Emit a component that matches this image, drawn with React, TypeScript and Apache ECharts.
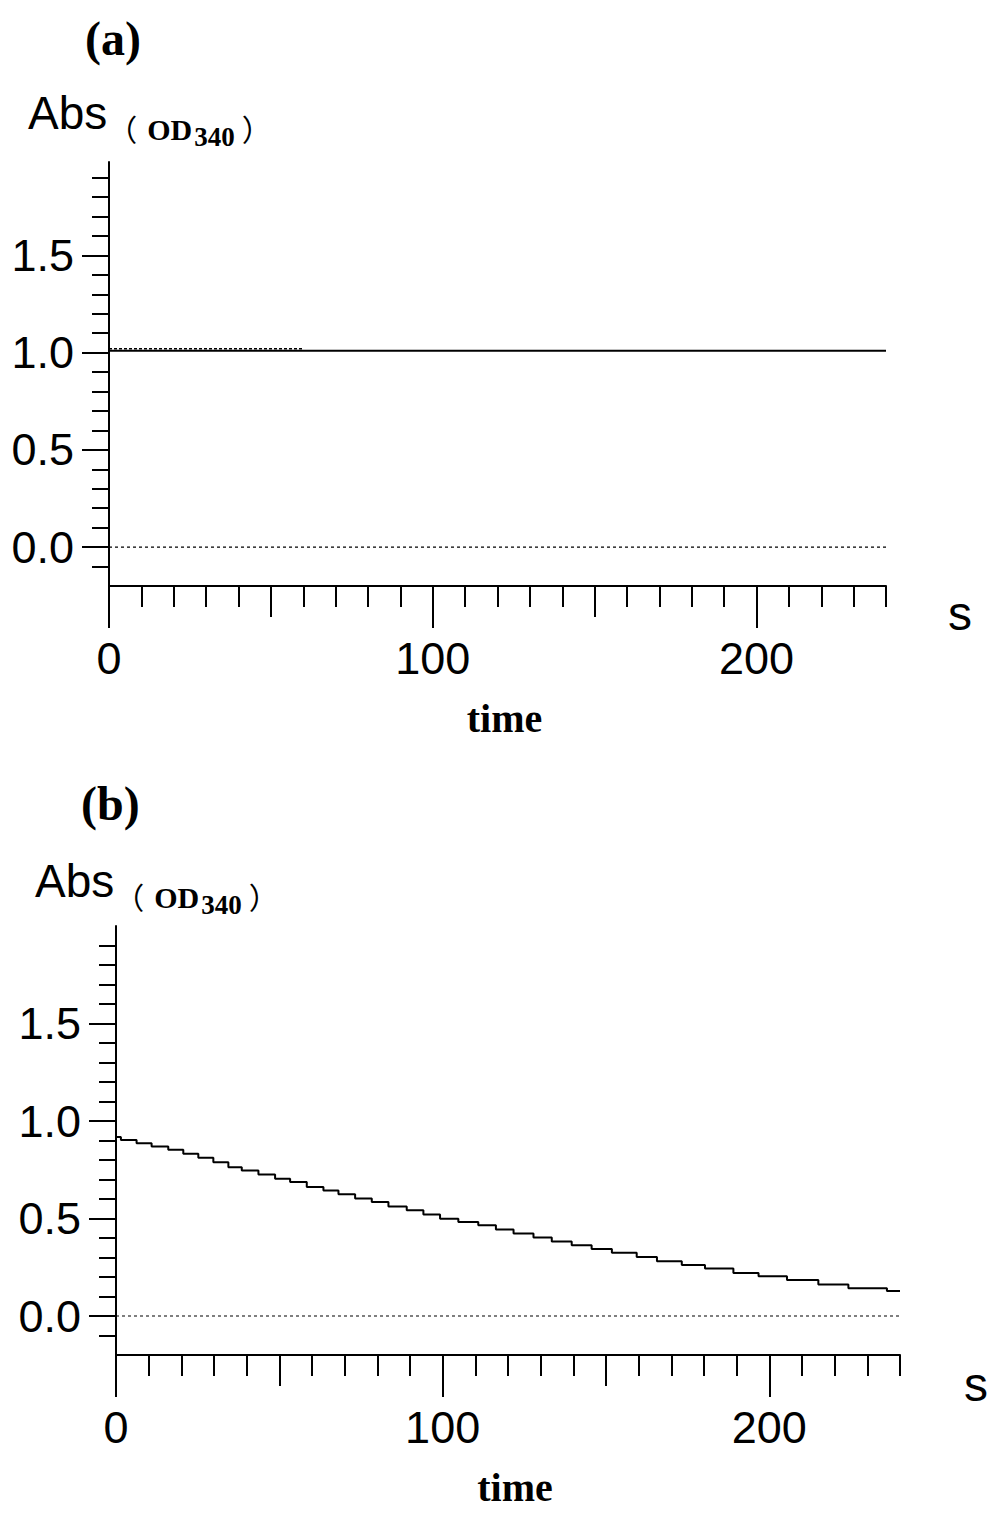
import React, { useEffect, useRef } from "react";
import * as echarts from "echarts";

// ---- data ----
const panelLabels = ["(a)", "(b)"];
const xTickLabels = [0, 100, 200];
const xMinorTicks = [0, 10, 20, 30, 40, 50, 60, 70, 80, 90, 100, 110, 120, 130, 140, 150, 160, 170, 180, 190, 200, 210, 220, 230, 240];
const xMidTicks = [50, 150];
const xMajorTicks = [0, 100, 200];
const yTickLabels = [0, 0.5, 1.0, 1.5];
const yMinorTicks = [-0.1, 0.1, 0.2, 0.3, 0.4, 0.6, 0.7, 0.8, 0.9, 1.1, 1.2, 1.3, 1.4, 1.6, 1.7, 1.8, 1.9];
const yMajorTicks = [0, 0.5, 1.0, 1.5];

const zeroTime = [0, 240];
const zeroAbs = [0, 0];

const timeA = [0, 240];
const absA = [1.01, 1.01];
const timeAOverlay = [0, 60];
const absAOverlay = [1.02, 1.02];

const timeB = [0, 1.5, 6.3, 10.9, 16.0, 20.6, 25.2, 29.8, 34.4, 38.5, 43.6, 48.7, 53.3, 58.4, 63.5, 68.1, 73.2, 78.3, 83.4, 89.0, 94.1, 99.2, 104.8, 110.9, 116.3, 121.7, 127.8, 133.4, 139.5, 145.6, 151.8, 159.4, 165.6, 173.2, 180.3, 189.0, 196.7, 205.4, 215.0, 224.2, 236.0, 240];
const absB = [0.918, 0.903, 0.886, 0.869, 0.852, 0.832, 0.811, 0.789, 0.763, 0.746, 0.726, 0.704, 0.687, 0.661, 0.644, 0.624, 0.602, 0.584, 0.562, 0.542, 0.521, 0.499, 0.482, 0.465, 0.443, 0.423, 0.402, 0.382, 0.363, 0.344, 0.324, 0.303, 0.281, 0.261, 0.244, 0.221, 0.204, 0.184, 0.162, 0.142, 0.128, 0.128];

const numFont = "'Liberation Sans', Arial, sans-serif";
const sansFont = "'Liberation Sans', Arial, sans-serif";
const serifFont = "'Liberation Serif', 'Times New Roman', serif";
const cjkFont = "'Noto Sans CJK SC', sans-serif";

const zip = (xs: number[], ys: number[]) => xs.map((x, i) => [x, ys[i]]);

function xAxesFor(gridIndex: number, sGap: number, sLineHeight: number) {
  const base = { type: "value", gridIndex, min: 0, max: 240, position: "bottom", splitLine: { show: false } };
  return [
    {
      ...base,
      axisLine: { show: true, onZero: false, lineStyle: { color: "#000", width: 2 } },
      axisTick: { show: true, inside: false, length: 21, customValues: xMinorTicks, lineStyle: { color: "#000", width: 2 } },
      axisLabel: {
        show: true,
        customValues: xTickLabels,
        margin: 50,
        fontSize: 45,
        fontFamily: numFont,
        color: "#000",
      },
      name: "s",
      nameLocation: "end",
      nameGap: sGap,
      nameTextStyle: { fontSize: 48, fontFamily: sansFont, color: "#000", verticalAlign: "top", lineHeight: sLineHeight },
    },
    {
      ...base,
      axisLine: { show: false, onZero: false },
      axisTick: { show: true, inside: false, length: 31, customValues: xMidTicks, lineStyle: { color: "#000", width: 2 } },
      axisLabel: { show: false },
      name: "time",
      nameLocation: "middle",
      nameGap: 112,
      nameTextStyle: { fontSize: 40, fontFamily: serifFont, fontWeight: "bold", color: "#000", padding: [0, 0, 0, 14] },
    },
    {
      ...base,
      axisLine: { show: false, onZero: false },
      axisTick: { show: true, inside: false, length: 42, customValues: xMajorTicks, lineStyle: { color: "#000", width: 2 } },
      axisLabel: { show: false },
    },
  ];
}

function yAxesFor(gridIndex: number, max: number) {
  const base = { type: "value", gridIndex, min: -0.2, max, position: "left", splitLine: { show: false } };
  return [
    {
      ...base,
      axisLine: { show: true, onZero: false, lineStyle: { color: "#000", width: 2 } },
      axisTick: { show: true, inside: false, length: 17, customValues: yMinorTicks, lineStyle: { color: "#000", width: 2 } },
      axisLabel: {
        show: true,
        customValues: yTickLabels,
        margin: 35,
        fontSize: 45,
        fontFamily: numFont,
        color: "#000",
        formatter: (v: number) => v.toFixed(1),
      },
    },
    {
      ...base,
      axisLine: { show: false, onZero: false },
      axisTick: { show: true, inside: false, length: 27, customValues: yMajorTicks, lineStyle: { color: "#000", width: 2 } },
      axisLabel: { show: false },
    },
  ];
}

const absRich = {
  a: { fontFamily: sansFont, fontWeight: "normal", fontSize: 46, color: "#000", verticalAlign: "bottom", padding: [0, 0, 14, 0] },
  p: { fontFamily: cjkFont, fontWeight: "normal", fontSize: 30, color: "#000", verticalAlign: "bottom", padding: [0, 10, 7, 0] },
  b: { fontFamily: serifFont, fontWeight: "bold", fontSize: 30, color: "#000", verticalAlign: "bottom", padding: [0, 0, 6, 0] },
  s: { fontFamily: serifFont, fontWeight: "bold", fontSize: 27, color: "#000", verticalAlign: "bottom", padding: [0, 0, 0, 2] },
  q: { fontFamily: cjkFont, fontWeight: "normal", fontSize: 30, color: "#000", verticalAlign: "bottom", padding: [0, 0, 7, 7] },
};
const absText = "{a|Abs}{p|（}{b|OD}{s|340}{q|）}";

export default function App() {
  const ref = useRef<HTMLDivElement>(null);
  useEffect(() => {
    document.body.style.margin = "0";
    if (!ref.current) return;
    const chart = echarts.init(ref.current, null, { renderer: "svg" });
    const option: any = {
      animation: false,
      backgroundColor: "#fff",
      title: [
        { text: panelLabels[0], left: 85, top: 14, padding: 0, textStyle: { fontFamily: serifFont, fontWeight: "bold", fontSize: 48, color: "#000" } },
        { text: panelLabels[1], left: 81, top: 779, padding: 0, textStyle: { fontFamily: serifFont, fontWeight: "bold", fontSize: 48, color: "#000" } },
        { text: absText, left: 28, top: 90, padding: 0, textStyle: { rich: absRich } },
        { text: absText, left: 35, top: 858, padding: 0, textStyle: { rich: absRich } },
      ],
      grid: [
        { left: 109, top: 162, width: 777, height: 424, containLabel: false },
        { left: 116, top: 926, width: 784, height: 429, containLabel: false },
      ],
      xAxis: [...xAxesFor(0, 62, 54), ...xAxesFor(1, 64, 58)],
      yAxis: [...yAxesFor(0, 1.98), ...yAxesFor(1, 2.0)],
      series: [
        {
          type: "line", xAxisIndex: 0, yAxisIndex: 0, data: zip(zeroTime, zeroAbs), symbol: "none",
          lineStyle: { color: "#000", width: 1.2, type: [3, 3] }, silent: true,
        },
        {
          type: "line", xAxisIndex: 0, yAxisIndex: 0, data: zip(timeA, absA), symbol: "none",
          lineStyle: { color: "#000", width: 2 },
        },
        {
          type: "line", xAxisIndex: 0, yAxisIndex: 0, data: zip(timeAOverlay, absAOverlay), symbol: "none",
          lineStyle: { color: "#000", width: 1.5, type: [3, 2] },
        },
        {
          type: "line", xAxisIndex: 3, yAxisIndex: 2, data: zip(zeroTime, zeroAbs), symbol: "none",
          lineStyle: { color: "#000", width: 1.2, type: [3, 3] }, silent: true,
        },
        {
          type: "line", xAxisIndex: 3, yAxisIndex: 2, data: zip(timeB, absB), symbol: "none", step: "end",
          lineStyle: { color: "#000", width: 2 },
        },
      ],
    };
    chart.setOption(option);
    return () => chart.dispose();
  }, []);
  return <div ref={ref} style={{ width: 1004, height: 1539 }} />;
}
